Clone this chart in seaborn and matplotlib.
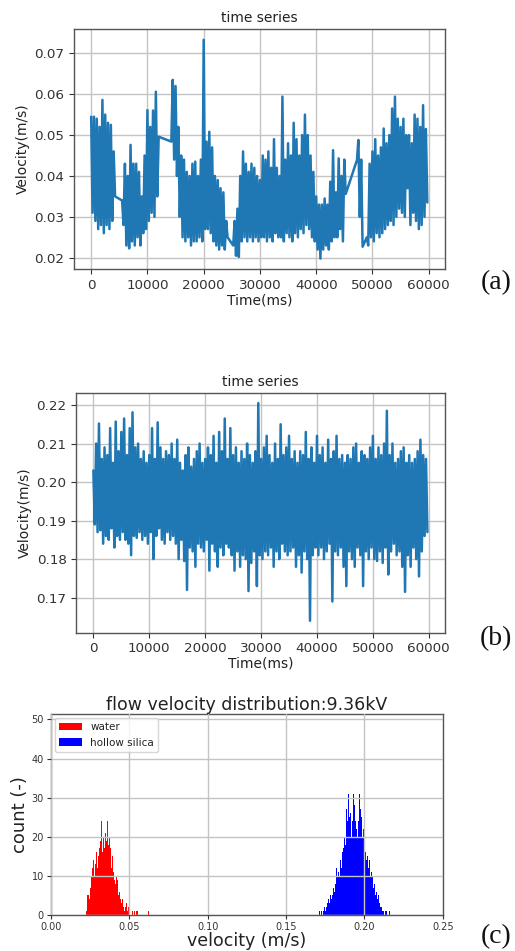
import numpy as np
import pandas as pd
import matplotlib
matplotlib.use("Agg")
import matplotlib.pyplot as plt
import seaborn as sns

nan = np.nan

# ---------------- data ----------------
# panel (a): water velocity, envelope read every 500 ms (peak at t, trough at t+250)
step_ms = 500
a_peaks = [
    .0545, .0545, .054, .052, .0586, .055, .053, .0525, .046, nan,
    nan, .034, .043, .040, .0476, .043, .043, .041, .035, .045,
    .0561, .052, .056, .0606, .0496, nan, nan, nan, nan, .0635,
    .062, .052, .045, .044, .041, .040, .043, .0435, .040, .044,
    .0733, .0484, .0508, .047, .040, .039, .037, .036, .029, nan,
    nan, .029, .032, .040, .046, .043, .041, .043, .042, .040,
    .039, .045, .044, .046, .042, .049, .042, .040, .0594, .044,
    .048, .045, .053, .049, .045, .050, .055, .050, .045, .041,
    .035, .033, .033, .0345, .033, .0386, .0463, .036, .0443, .040,
    .044, nan, nan, nan, nan, .0488, .044, nan, .025, .043,
    .046, .049, .045, .047, .0516, .048, .050, .0565, .0594, .054,
    .052, .054, .050, .050, .048, .055, .054, .052, .0573, .0515,
]
a_troughs = [
    .031, .029, .027, .028, .026, .028, .027, .029, .035, nan,
    nan, .028, .023, .0223, .024, .023, .025, .023, .026, .027,
    .029, .031, .030, .035, nan, nan, nan, nan, .0484, .044,
    .040, .030, .025, .024, .025, .023, .024, .024, .025, .024,
    .027, .027, .026, .024, .023, .022, .023, .022, .025, nan,
    .023, .0205, .0202, .024, .025, .024, .025, .024, .025, .024,
    .025, .025, .024, .025, .024, .026, .025, .025, .024, .026,
    .025, .024, .026, .025, .027, .026, .028, .027, .025, .024,
    .022, .0198, .022, .023, .022, .024, .025, .025, .027, .024,
    .0356, nan, nan, nan, .0439, .030, .0227, nan, .023, .025,
    .024, .026, .025, .026, .027, .028, .029, .028, .030, .032,
    .031, .030, .037, .028, .031, .029, .027, .028, .030, .0335,
]

# panel (b): hollow silica velocity, same sampling
b_peaks = [
    .203, .210, .2152, .206, .209, .207, .214, .205, .2157, .208,
    .213, .2165, .207, .214, .2181, .209, .210, .206, .208, .205,
    .207, .214, .206, .2155, .209, .206, .208, .207, .210, .206,
    .211, .205, .203, .207, .209, .204, .206, .208, .210, .205,
    .206, .209, .207, .212, .205, .213, .208, .2165, .206, .214,
    .207, .209, .205, .208, .206, .210, .207, .205, .208, .2205,
    .206, .209, .212, .207, .205, .210, .206, .215, .207, .209,
    .212, .206, .208, .205, .208, .207, .213, .206, .209, .205,
    .212, .207, .209, .205, .211, .206, .208, .212, .206, .207,
    .205, .207, .206, .209, .210, .205, .208, .207, .206, .209,
    .212, .206, .209, .207, .210, .2185, .207, .210, .205, .206,
    .208, .209, .205, .207, .205, .206, .208, .211, .207, .206,
]
b_troughs = [
    .189, .187, .1875, .184, .186, .185, .188, .183, .186, .185,
    .187, .185, .184, .181, .186, .1855, .187, .185, .186, .184,
    .187, .180, .186, .188, .185, .184, .187, .185, .186, .184,
    .180, .185, .1795, .172, .183, .182, .178, .184, .183, .182,
    .185, .177, .184, .182, .178, .183, .181, .184, .183, .181,
    .177, .182, .178, .181, .180, .1717, .179, .182, .173, .181,
    .180, .182, .181, .183, .178, .182, .180, .184, .182, .181,
    .182, .183, .178, .181, .1765, .182, .180, .164, .181, .183,
    .181, .183, .180, .182, .184, .169, .182, .181, .183, .178,
    .173, .182, .180, .178, .183, .181, .173, .182, .180, .183,
    .180, .1795, .182, .179, .183, .176, .182, .184, .181, .182,
    .178, .1715, .181, .178, .183, .180, .1755, .182, .186, .187,
]

# panel (c): histogram counts, bin width 0.0005
bin_w = 0.0005
water_start = 0.0220
water_counts = [
    0, 1, 5, 3, 5, 4, 7, 6, 10, 12,
    14, 10, 14, 13, 16, 12, 15, 20, 17, 19,
    24, 18, 16, 20, 17, 21, 15, 19, 24, 18,
    20, 14, 17, 12, 15, 10, 11, 9, 8, 10,
    6, 9, 5, 6, 4, 5, 3, 4, 2, 3,
    1, 2, 3, 1, 1, 2, 1, 0, 1, 0,
    1, 0, 1, 0, 0, 1, 1, 0, 0, 0,
    0, 0, 0, 0, 0, 0, 0, 0, 0, 0,
    1,
]
silica_start = 0.1710
silica_counts = [
    1, 0, 0, 1, 0, 1, 1, 2, 1, 2,
    3, 2, 4, 3, 5, 4, 6, 5, 7, 6,
    9, 8, 12, 10, 11, 13, 10, 14, 12, 16,
    14, 17, 20, 18, 22, 27, 24, 31, 25, 22,
    26, 20, 24, 31, 23, 28, 24, 22, 29, 20,
    24, 31, 27, 33, 25, 20, 22, 18, 20, 16,
    14, 15, 13, 12, 14, 10, 11, 9, 10, 7,
    8, 6, 5, 6, 4, 5, 3, 3, 2, 2,
    1, 2, 1, 0, 1, 0, 1, 0, 0, 1,
]

# ---------------- style ----------------
sns.set_style("ticks", {"axes.grid": True, "grid.color": "#c4c4c4",
                        "axes.edgecolor": "#555555",
                        "xtick.color": "#444444", "ytick.color": "#444444",
                        "text.color": "#222222", "axes.labelcolor": "#222222"})
plt.rcParams["font.family"] = ["DejaVu Sans"]
plt.rcParams["grid.linewidth"] = 1.0
plt.rcParams["axes.linewidth"] = 1.0

fig = plt.figure(figsize=(5.15, 9.51), dpi=100)


def series_frame(peaks, troughs):
    t = np.arange(len(peaks)) * step_ms
    df = pd.concat([
        pd.DataFrame({"t": t, "v": peaks}),
        pd.DataFrame({"t": t + step_ms / 2, "v": troughs}),
    ]).sort_values("t").dropna()
    return df


def ts_panel(rect, peaks, troughs, ylim, yticks):
    ax = fig.add_axes(rect)
    df = series_frame(peaks, troughs)
    sns.lineplot(data=df, x="t", y="v", ax=ax, color="#1f77b4", lw=1.8,
                 estimator=None, sort=True)
    ax.set_xlim(-3050, 62900)
    ax.set_ylim(*ylim)
    ax.set_xticks(range(0, 60001, 10000))
    ax.set_yticks(yticks)
    ax.set_yticklabels([f"{v:.2f}" for v in yticks])
    ax.tick_params(labelsize=9.7, length=3.5, width=0.8, colors="#333333")
    ax.set_title("time series", fontsize=10, pad=5)
    ax.set_xlabel("Time(ms)", fontsize=10, labelpad=1)
    ax.set_ylabel("Velocity(m/s)", fontsize=10, labelpad=3)
    ax.grid(True, color="#c4c4c4", lw=1)
    for s in ax.spines.values():
        s.set_visible(True)
        s.set_color("#555555")
    return ax


ax_a = ts_panel([0.1437, 0.7171, 0.7204, 0.2527], a_peaks, a_troughs,
                (0.01724, 0.0760), [0.02, 0.03, 0.04, 0.05, 0.06, 0.07])
ax_b = ts_panel([0.1482, 0.3347, 0.7159, 0.2524], b_peaks, b_troughs,
                (0.1609, 0.2232), [0.17, 0.18, 0.19, 0.20, 0.21, 0.22])

# histogram panel
ax_c = fig.add_axes([0.0984, 0.0379, 0.7617, 0.2113])
w_centers = water_start + bin_w * (np.arange(len(water_counts)) + 0.5)
s_centers = silica_start + bin_w * (np.arange(len(silica_counts)) + 0.5)
sns.histplot(x=w_centers, weights=water_counts, binwidth=bin_w,
             binrange=(water_start, water_start + bin_w * len(water_counts)),
             color="red", alpha=1, linewidth=0, label="water", ax=ax_c)
sns.histplot(x=s_centers, weights=silica_counts, binwidth=bin_w,
             binrange=(silica_start, silica_start + bin_w * len(silica_counts)),
             color="blue", alpha=1, linewidth=0, label="hollow silica", ax=ax_c)
ax_c.set_xlim(0, 0.25)
ax_c.set_ylim(0, 51.4)
ax_c.set_xticks([0, 0.05, 0.10, 0.15, 0.20, 0.25])
ax_c.set_xticklabels(["0.00", "0.05", "0.10", "0.15", "0.20", "0.25"])
ax_c.set_yticks([0, 10, 20, 30, 40, 50])
ax_c.tick_params(labelsize=7, length=3, width=0.8, colors="#333333", pad=2)
ax_c.set_title("flow velocity distribution:9.36kV", fontsize=12.5, pad=2)
ax_c.set_xlabel("velocity (m/s)", fontsize=12.5, labelpad=0)
ax_c.set_ylabel("count (-)", fontsize=13, labelpad=2)
ax_c.grid(True, color="#c4c4c4", lw=1)
ax_c.set_axisbelow(False)
for s in ax_c.spines.values():
    s.set_visible(True)
    s.set_color("#555555")
ax_c.legend(loc="upper left", fontsize=7.5, frameon=True, handlelength=2.2,
            borderaxespad=0.4)

# panel letters
for lbl, y in [("(a)", 282.5), ("(b)", 638.5), ("(c)", 937)]:
    fig.text(496 / 515, 1 - y / 951, lbl, fontsize=20, family="Liberation Serif",
             ha="center", va="center", color="#111111")

fig.savefig("out.png", dpi=100)
